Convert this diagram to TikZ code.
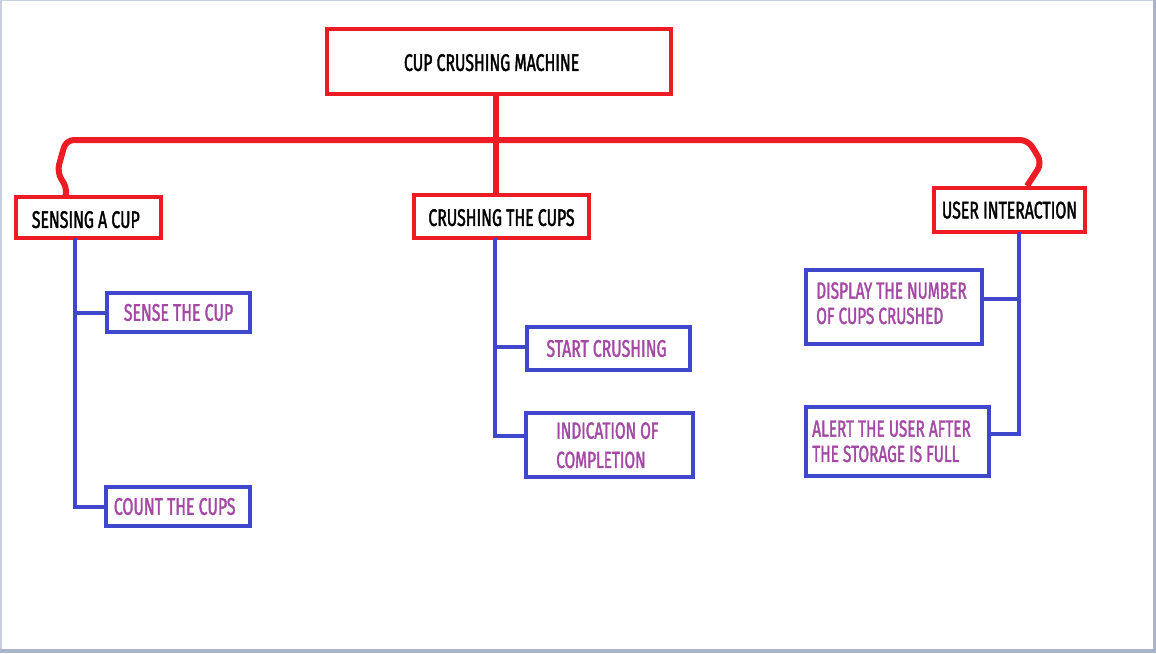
\documentclass[tikz,border=0pt]{standalone}
\usepackage{fontspec}
\setmainfont[FakeStretch=0.66, FakeBold=1.5]{Fira Sans}
\usetikzlibrary{calc}
\definecolor{pred}{HTML}{ED1C24}
\definecolor{pblue}{HTML}{3F48CC}
\definecolor{ppurple}{HTML}{A349A4}
\definecolor{frameA}{HTML}{C8D0E0}
\definecolor{frameB}{HTML}{AAB4CC}
\tikzset{
  redbox/.style={draw=pred, line width=3pt, inner sep=0pt, text depth=-1pt, font=\fontsize{18}{21}\selectfont, text=black},
  bluebox/.style={draw=pblue, line width=3pt, inner sep=0pt, font=\fontsize{18}{21}\selectfont, text=ppurple},
  ptext/.style={inner sep=0pt, font=\fontsize{17.5}{19}\selectfont, text=ppurple, align=left},
  redline/.style={draw=pred, line width=4.5pt, rounded corners=6pt},
  blueline/.style={draw=pblue, line width=3pt, line cap=rect, line join=miter},
}
\begin{document}
\begin{tikzpicture}[x=0.75pt, y=-0.75pt]
\useasboundingbox (0,0) rectangle (1156,653);
\fill[white] (0,0) rectangle (1156,653);
\fill[frameA] (0,0) rectangle (2,649);
\fill[frameA] (0,0) rectangle (1156,1);
\fill[frameB] (1153,0) rectangle (1156,653);
\fill[frameB] (0,649) rectangle (1156,653);
% red boxes
\node[redbox, minimum width=344*0.75pt, minimum height=65*0.75pt] (root) at (499,61.5) {\hspace*{-11pt}\raisebox{-1.5pt}{CUP CRUSHING MACHINE}};
\node[redbox, minimum width=145*0.75pt, minimum height=41*0.75pt] (sens) at (88.5,217.5) {\hspace*{-4pt}\raisebox{-3pt}{SENSING A CUP}};
\node[redbox, minimum width=175*0.75pt, minimum height=43*0.75pt] (cr) at (501.5,216.5) {\raisebox{-1.5pt}{CRUSHING THE CUPS}};
\node[redbox, minimum width=151*0.75pt, minimum height=44*0.75pt] (ui) at (1009.5,210) {USER INTERACTION};
% blue boxes
\node[bluebox, minimum width=143*0.75pt, minimum height=39*0.75pt] (sense) at (178.5,312.5) {\raisebox{-2pt}{SENSE THE CUP}};
\node[bluebox, minimum width=144*0.75pt, minimum height=39*0.75pt] (count) at (178,506.5) {\hspace*{-5pt}COUNT THE CUPS};
\node[bluebox, minimum width=163*0.75pt, minimum height=43*0.75pt] (start) at (608.5,348.5) {\hspace*{-3pt}START CRUSHING};
\node[bluebox, minimum width=167*0.75pt, minimum height=64*0.75pt] (ind) at (609.5,445) {};
\node[ptext, anchor=north west] at (556,422) {INDICATION OF\\[3pt]COMPLETION};
\node[bluebox, minimum width=176*0.75pt, minimum height=74*0.75pt] (disp) at (894,307) {};
\node[ptext, anchor=north west] at (816,282) {DISPLAY\ THE NUMBER\\OF CUPS CRUSHED};
\node[bluebox, minimum width=183*0.75pt, minimum height=69*0.75pt] (alert) at (897.5,441.5) {};
\node[ptext, anchor=north west] at (812,420) {ALERT THE USER AFTER\\THE STORAGE IS FULL};
% red connectors
\draw[redline] (root.south -| 496,0) -- (cr.north -| 496,0);
\draw[redline] (sens.north -| 66,0) -- (68,190) -- (57,172) -- (66,140) -- (1028,140) -- (1042,163) -- (ui.north -| 1027,0);
% blue connectors
\draw[blueline] (sens.south -| 75,0) |- (sense.west);
\draw[blueline] (sens.south -| 75,0) |- (count.west);
\draw[blueline] (cr.south -| 495,0) |- ($(start.west)+(0,-2)$);
\draw[blueline] (cr.south -| 495,0) |- ($(ind.west)+(0,-9)$);
\draw[blueline] (ui.south -| 1019,0) |- ($(disp.east)+(0,-8)$);
\draw[blueline] (ui.south -| 1019,0) |- ($(alert.east)+(0,-8)$);
\end{tikzpicture}
\end{document}
